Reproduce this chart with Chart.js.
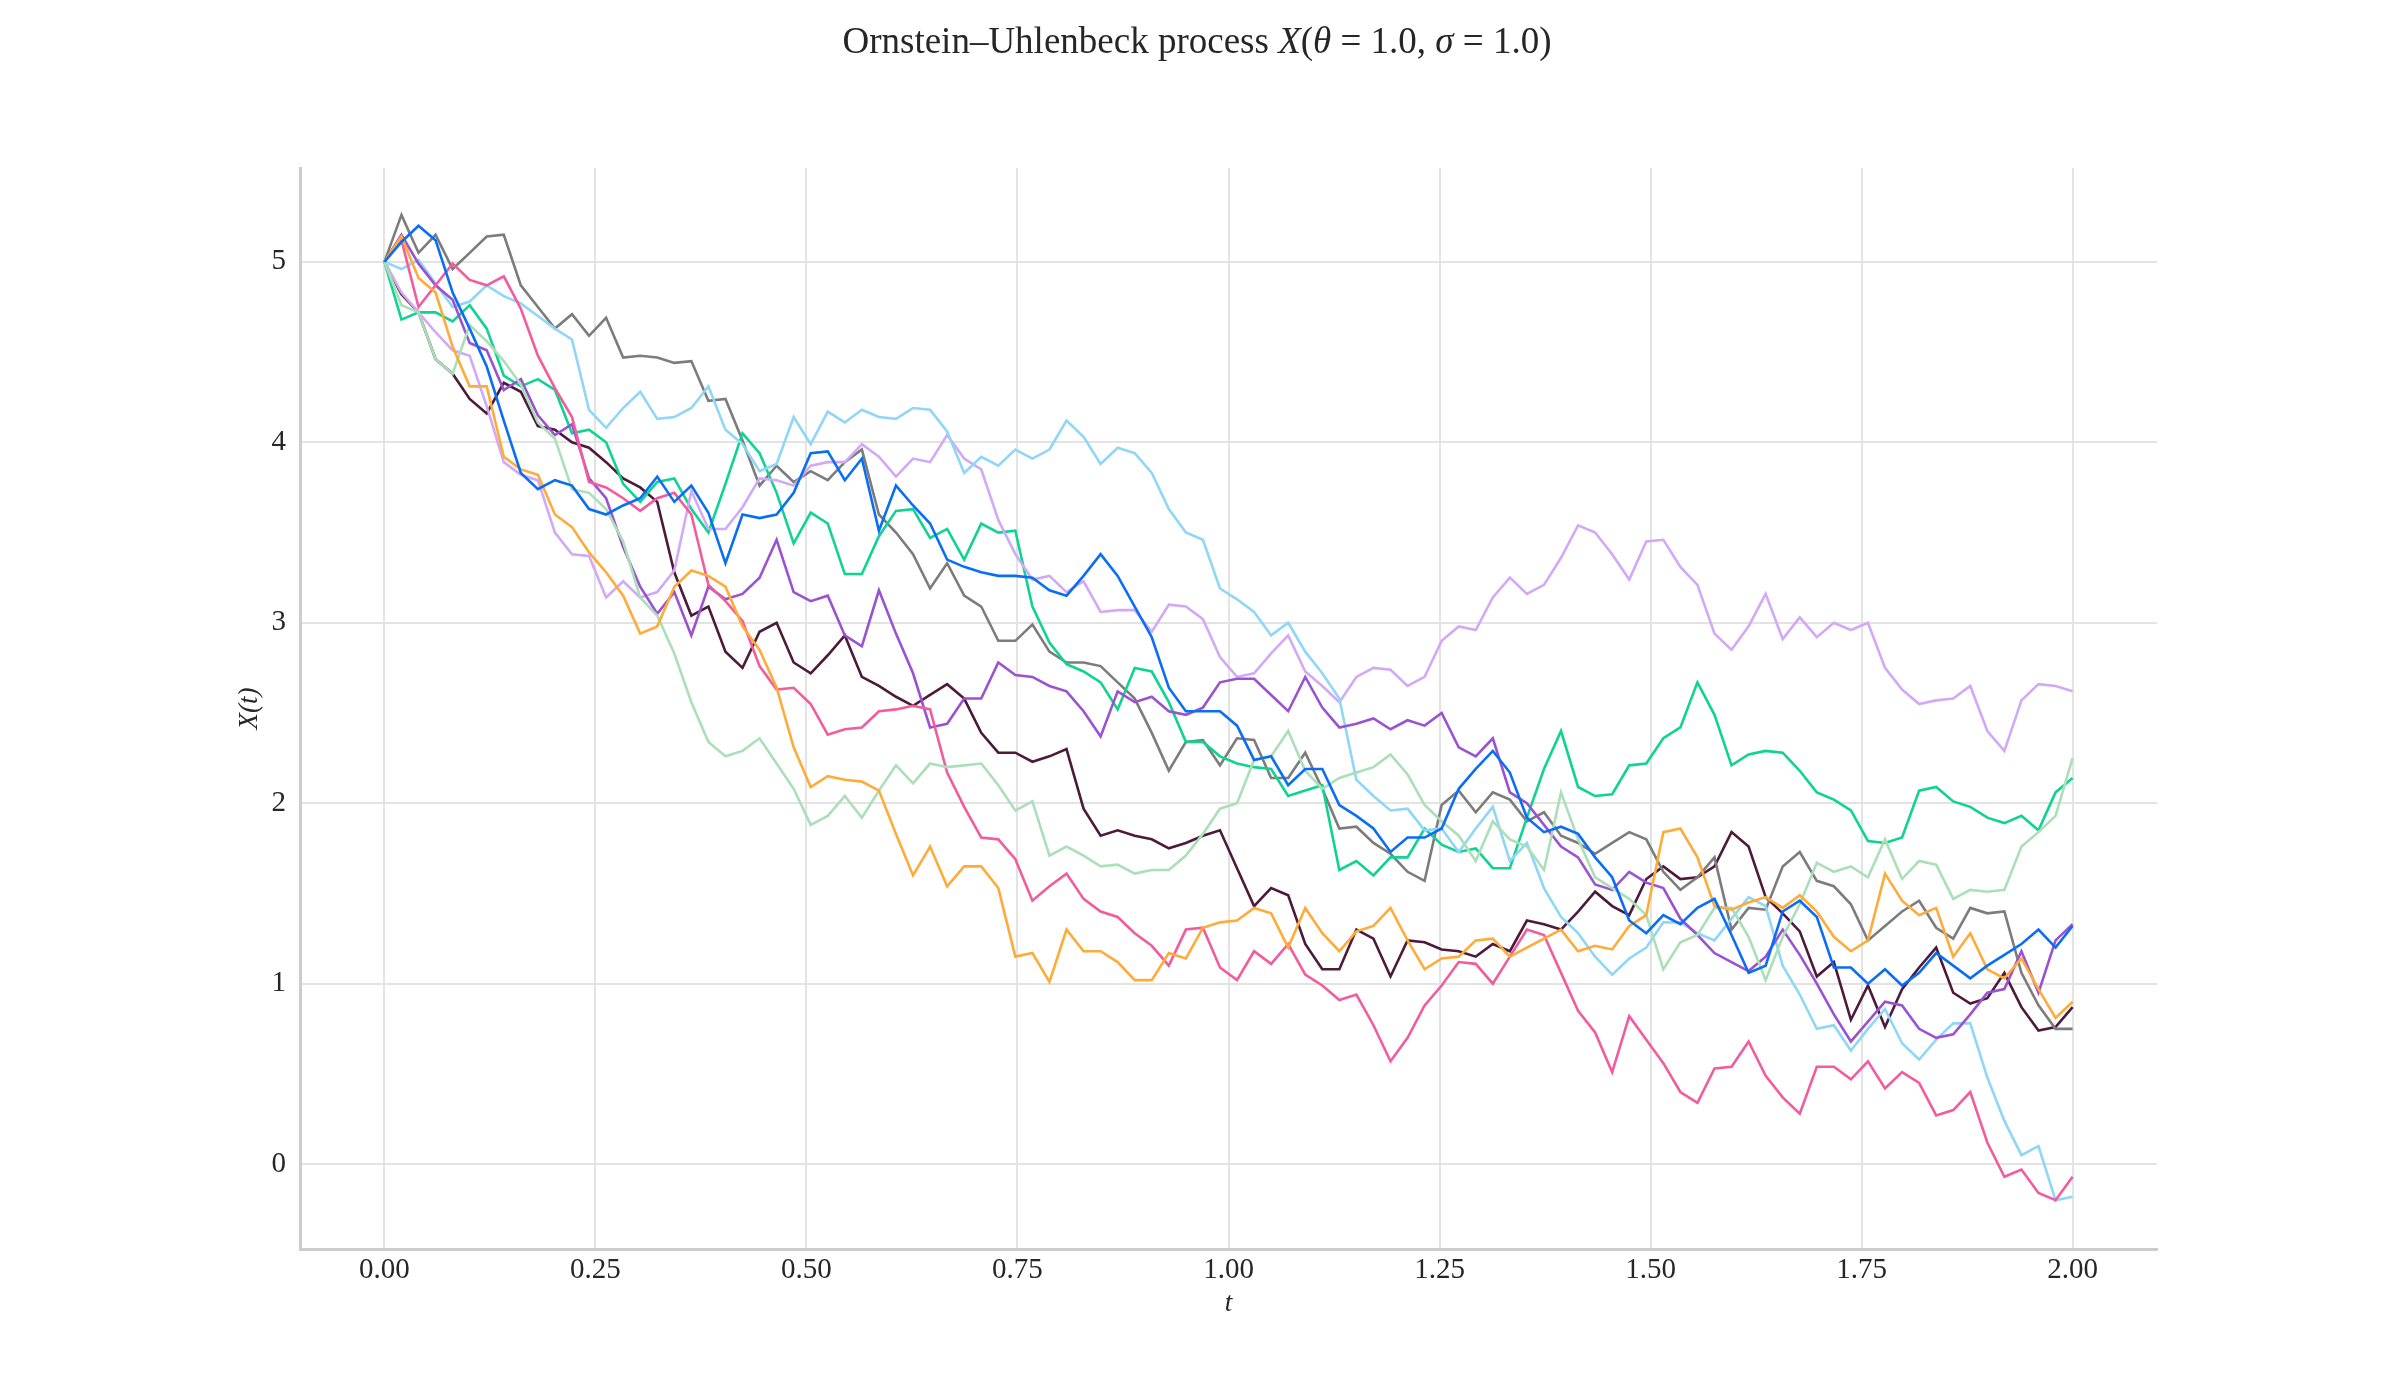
<!DOCTYPE html>
<html>
<head>
<meta charset="utf-8">
<script src="https://cdn.jsdelivr.net/npm/chart.js@4"></script>
<style>
    html, body { margin: 0; padding: 0; background: #ffffff; }
    canvas { display: block; }
</style>
</head>
<body>
<canvas id="ou_chart" width="2400" height="1400"></canvas>
<script>
'use strict';

// sample times: 100 steps from 0 to 2
const N_STEPS = 100;
const T_END = 2;

const X_TICKS = [0, 0.25, 0.5, 0.75, 1, 1.25, 1.5, 1.75, 2];
const Y_TICKS = [0, 1, 2, 3, 4, 5];

const path_blue = [5.00, 5.11, 5.20, 5.12, 4.83, 4.63, 4.42, 4.12, 3.83, 3.74, 3.79, 3.76, 3.63, 3.60, 3.65, 3.69, 3.81, 3.67, 3.76, 3.61,
    3.33, 3.60, 3.58, 3.60, 3.72, 3.94, 3.95, 3.79, 3.91, 3.51, 3.76, 3.65, 3.55, 3.35, 3.31, 3.28, 3.26, 3.26, 3.25, 3.18,
    3.15, 3.26, 3.38, 3.26, 3.09, 2.92, 2.64, 2.51, 2.51, 2.51, 2.43, 2.24, 2.26, 2.10, 2.19, 2.19, 1.99, 1.93, 1.86, 1.73,
    1.81, 1.81, 1.86, 2.08, 2.19, 2.29, 2.17, 1.92, 1.84, 1.87, 1.83, 1.70, 1.59, 1.35, 1.28, 1.38, 1.33, 1.42, 1.47, 1.27,
    1.06, 1.10, 1.40, 1.46, 1.37, 1.09, 1.09, 1.00, 1.08, 0.99, 1.06, 1.17, 1.10, 1.03, 1.10, 1.16, 1.22, 1.30, 1.20, 1.32];
const path_orange = [5.00, 5.14, 4.91, 4.83, 4.53, 4.31, 4.31, 3.92, 3.85, 3.82, 3.60, 3.53, 3.39, 3.28, 3.15, 2.94, 2.98, 3.20, 3.29, 3.26,
    3.20, 2.98, 2.85, 2.64, 2.31, 2.09, 2.15, 2.13, 2.12, 2.07, 1.83, 1.60, 1.76, 1.54, 1.65, 1.65, 1.53, 1.15, 1.17, 1.01,
    1.30, 1.18, 1.18, 1.12, 1.02, 1.02, 1.17, 1.14, 1.31, 1.34, 1.35, 1.42, 1.39, 1.20, 1.42, 1.28, 1.18, 1.29, 1.32, 1.42,
    1.24, 1.08, 1.14, 1.15, 1.24, 1.25, 1.15, 1.20, 1.25, 1.30, 1.18, 1.21, 1.19, 1.32, 1.38, 1.84, 1.86, 1.70, 1.43, 1.41,
    1.45, 1.48, 1.42, 1.49, 1.40, 1.26, 1.18, 1.24, 1.61, 1.46, 1.38, 1.42, 1.15, 1.28, 1.08, 1.03, 1.14, 0.97, 0.81, 0.90];
const path_mint = [5.00, 4.76, 4.72, 4.46, 4.38, 4.65, 4.56, 4.45, 4.32, 4.11, 4.02, 3.74, 3.72, 3.63, 3.45, 3.14, 3.04, 2.83, 2.56, 2.34,
    2.26, 2.29, 2.36, 2.22, 2.08, 1.88, 1.93, 2.04, 1.92, 2.07, 2.21, 2.11, 2.22, 2.20, 2.21, 2.22, 2.10, 1.96, 2.01, 1.71,
    1.76, 1.71, 1.65, 1.66, 1.61, 1.63, 1.63, 1.71, 1.83, 1.97, 2.00, 2.24, 2.26, 2.40, 2.18, 2.08, 2.14, 2.17, 2.20, 2.27,
    2.16, 1.99, 1.90, 1.82, 1.68, 1.90, 1.80, 1.76, 1.63, 2.06, 1.80, 1.59, 1.53, 1.47, 1.38, 1.08, 1.23, 1.27, 1.42, 1.42,
    1.26, 1.02, 1.26, 1.44, 1.67, 1.62, 1.65, 1.59, 1.80, 1.58, 1.68, 1.66, 1.47, 1.52, 1.51, 1.52, 1.76, 1.84, 1.93, 2.25];
const path_pink = [5.00, 5.12, 4.75, 4.87, 4.99, 4.90, 4.87, 4.92, 4.74, 4.48, 4.30, 4.14, 3.78, 3.75, 3.69, 3.62, 3.69, 3.72, 3.60, 3.21,
    3.12, 3.01, 2.76, 2.63, 2.64, 2.55, 2.38, 2.41, 2.42, 2.51, 2.52, 2.54, 2.52, 2.17, 1.98, 1.81, 1.80, 1.69, 1.46, 1.54,
    1.61, 1.47, 1.40, 1.37, 1.28, 1.21, 1.10, 1.30, 1.31, 1.09, 1.02, 1.18, 1.11, 1.22, 1.05, 0.99, 0.91, 0.94, 0.77, 0.57,
    0.70, 0.88, 0.99, 1.12, 1.11, 1.00, 1.15, 1.30, 1.27, 1.06, 0.85, 0.73, 0.51, 0.82, 0.69, 0.56, 0.40, 0.34, 0.53, 0.54,
    0.68, 0.49, 0.37, 0.28, 0.54, 0.54, 0.47, 0.57, 0.42, 0.51, 0.45, 0.27, 0.30, 0.40, 0.12, -0.07, -0.03, -0.16, -0.20, -0.07];
const path_purple = [5.00, 5.15, 4.99, 4.87, 4.79, 4.55, 4.51, 4.29, 4.35, 4.15, 4.04, 4.10, 3.80, 3.69, 3.42, 3.20, 3.05, 3.17, 2.93, 3.20,
    3.13, 3.16, 3.25, 3.46, 3.17, 3.12, 3.15, 2.93, 2.87, 3.18, 2.94, 2.72, 2.42, 2.44, 2.58, 2.58, 2.78, 2.71, 2.70, 2.65,
    2.62, 2.51, 2.37, 2.62, 2.56, 2.59, 2.51, 2.49, 2.53, 2.67, 2.69, 2.69, 2.60, 2.51, 2.70, 2.53, 2.42, 2.44, 2.47, 2.41,
    2.46, 2.43, 2.50, 2.31, 2.26, 2.36, 2.06, 2.00, 1.88, 1.76, 1.70, 1.55, 1.52, 1.62, 1.56, 1.53, 1.36, 1.27, 1.17, 1.12,
    1.07, 1.15, 1.30, 1.16, 1.00, 0.83, 0.68, 0.79, 0.90, 0.88, 0.75, 0.70, 0.72, 0.83, 0.95, 0.97, 1.18, 0.95, 1.24, 1.33];
const path_sky = [5.00, 4.96, 5.01, 4.88, 4.75, 4.78, 4.87, 4.81, 4.77, 4.70, 4.63, 4.57, 4.18, 4.08, 4.19, 4.28, 4.13, 4.14, 4.19, 4.31,
    4.07, 3.99, 3.84, 3.88, 4.14, 3.99, 4.17, 4.11, 4.18, 4.14, 4.13, 4.19, 4.18, 4.06, 3.83, 3.92, 3.87, 3.96, 3.91, 3.96,
    4.12, 4.03, 3.88, 3.97, 3.94, 3.83, 3.63, 3.50, 3.46, 3.19, 3.13, 3.06, 2.93, 3.00, 2.84, 2.72, 2.58, 2.13, 2.04, 1.96,
    1.97, 1.85, 1.86, 1.73, 1.86, 1.98, 1.68, 1.78, 1.53, 1.37, 1.28, 1.15, 1.05, 1.14, 1.20, 1.34, 1.34, 1.28, 1.24, 1.36,
    1.48, 1.43, 1.10, 0.94, 0.75, 0.77, 0.63, 0.75, 0.86, 0.67, 0.58, 0.69, 0.78, 0.78, 0.48, 0.24, 0.05, 0.10, -0.20, -0.18];
const path_lavender = [5.00, 4.83, 4.72, 4.61, 4.51, 4.48, 4.20, 3.89, 3.82, 3.79, 3.50, 3.38, 3.37, 3.14, 3.23, 3.14, 3.17, 3.29, 3.73, 3.52,
    3.52, 3.64, 3.80, 3.79, 3.76, 3.87, 3.89, 3.89, 3.99, 3.92, 3.81, 3.91, 3.89, 4.04, 3.91, 3.85, 3.57, 3.38, 3.24, 3.26,
    3.17, 3.23, 3.06, 3.07, 3.07, 2.95, 3.10, 3.09, 3.02, 2.81, 2.70, 2.72, 2.83, 2.93, 2.73, 2.65, 2.56, 2.70, 2.75, 2.74,
    2.65, 2.70, 2.90, 2.98, 2.96, 3.14, 3.25, 3.16, 3.21, 3.36, 3.54, 3.50, 3.38, 3.24, 3.45, 3.46, 3.31, 3.21, 2.94, 2.85,
    2.98, 3.16, 2.91, 3.03, 2.92, 3.00, 2.96, 3.00, 2.75, 2.63, 2.55, 2.57, 2.58, 2.65, 2.40, 2.29, 2.57, 2.66, 2.65, 2.62];
const path_teal = [5.00, 4.68, 4.72, 4.72, 4.67, 4.76, 4.63, 4.37, 4.31, 4.35, 4.29, 4.05, 4.07, 4.00, 3.77, 3.67, 3.78, 3.80, 3.63, 3.50,
    3.77, 4.05, 3.94, 3.72, 3.44, 3.61, 3.55, 3.27, 3.27, 3.48, 3.62, 3.63, 3.47, 3.52, 3.35, 3.55, 3.50, 3.51, 3.09, 2.89,
    2.77, 2.73, 2.67, 2.52, 2.75, 2.73, 2.56, 2.34, 2.34, 2.26, 2.22, 2.20, 2.19, 2.04, 2.07, 2.10, 1.63, 1.68, 1.60, 1.70,
    1.70, 1.86, 1.77, 1.73, 1.75, 1.64, 1.64, 1.92, 2.19, 2.40, 2.09, 2.04, 2.05, 2.21, 2.22, 2.36, 2.42, 2.67, 2.49, 2.21,
    2.27, 2.29, 2.28, 2.18, 2.06, 2.02, 1.96, 1.79, 1.78, 1.81, 2.07, 2.09, 2.01, 1.98, 1.92, 1.89, 1.93, 1.85, 2.06, 2.14];
const path_gray = [5.00, 5.26, 5.05, 5.15, 4.96, 5.05, 5.14, 5.15, 4.87, 4.75, 4.63, 4.71, 4.59, 4.69, 4.47, 4.48, 4.47, 4.44, 4.45, 4.23,
    4.24, 4.01, 3.76, 3.87, 3.78, 3.84, 3.79, 3.89, 3.96, 3.60, 3.50, 3.38, 3.19, 3.33, 3.15, 3.09, 2.90, 2.90, 2.99, 2.84,
    2.78, 2.78, 2.76, 2.67, 2.58, 2.39, 2.18, 2.34, 2.35, 2.21, 2.36, 2.35, 2.14, 2.14, 2.28, 2.08, 1.86, 1.87, 1.78, 1.72,
    1.62, 1.57, 1.99, 2.07, 1.95, 2.06, 2.02, 1.90, 1.95, 1.82, 1.78, 1.72, 1.78, 1.84, 1.80, 1.62, 1.52, 1.59, 1.70, 1.30,
    1.42, 1.41, 1.65, 1.73, 1.57, 1.54, 1.44, 1.24, 1.32, 1.40, 1.46, 1.31, 1.25, 1.42, 1.39, 1.40, 1.06, 0.88, 0.75, 0.75];
const path_maroon = [5.00, 4.82, 4.72, 4.46, 4.38, 4.24, 4.16, 4.33, 4.28, 4.09, 4.07, 4.00, 3.97, 3.89, 3.80, 3.75, 3.67, 3.28, 3.04, 3.09,
    2.84, 2.75, 2.95, 3.00, 2.78, 2.72, 2.82, 2.93, 2.70, 2.65, 2.59, 2.54, 2.60, 2.66, 2.58, 2.39, 2.28, 2.28, 2.23, 2.26,
    2.30, 1.97, 1.82, 1.85, 1.82, 1.80, 1.75, 1.78, 1.82, 1.85, 1.64, 1.43, 1.53, 1.49, 1.22, 1.08, 1.08, 1.30, 1.25, 1.04,
    1.24, 1.23, 1.19, 1.18, 1.15, 1.22, 1.18, 1.35, 1.33, 1.30, 1.40, 1.51, 1.43, 1.38, 1.58, 1.65, 1.58, 1.59, 1.65, 1.84,
    1.76, 1.48, 1.39, 1.29, 1.04, 1.12, 0.80, 0.99, 0.76, 0.97, 1.09, 1.20, 0.95, 0.89, 0.92, 1.06, 0.87, 0.74, 0.76, 0.87];

const PATHS = [
    [path_blue, '#0a6ef5'],
    [path_orange, '#ffab3a'],
    [path_mint, '#abdfb8'],
    [path_pink, '#f25c9d'],
    [path_purple, '#9b52d1'],
    [path_sky, '#8fd6f7'],
    [path_lavender, '#d1a9f6'],
    [path_teal, '#0fd392'],
    [path_gray, '#7c7c7c'],
    [path_maroon, '#4d1a3b'],
];

const FONT = "'Liberation Serif', 'DejaVu Serif', serif";
const TEXT_COLOR = '#262626';

function sample_time(i) {
    return i * T_END / (N_STEPS - 1);
}

function make_dataset(values, color) {
    return {
        data: values.map((v, i) => ({x: sample_time(i), y: v})),
        borderColor: color,
        backgroundColor: color,
        borderWidth: 2.6,
        pointRadius: 0,
        tension: 0,
        fill: false,
    };
}

// title with the math parts in italic, drawn centred above the plot
const title_plugin = {
    id: 'ou_title',
    afterDraw(chart) {
        const ctx = chart.ctx;
        const size = 37;
        const parts = [
            ['Ornstein\u2013Uhlenbeck process ', false],
            ['X', true], ['(', false], ['\u03b8', true], [' = 1.0, ', false],
            ['\u03c3', true], [' = 1.0)', false],
        ];
        ctx.save();
        ctx.fillStyle = TEXT_COLOR;
        ctx.textBaseline = 'middle';
        ctx.textAlign = 'left';
        let total = 0;
        parts.forEach(([txt, it]) => {
            ctx.font = (it ? 'italic ' : '') + size + 'px ' + FONT;
            total += ctx.measureText(txt).width;
        });
        let x = 1197 - total / 2;
        parts.forEach(([txt, it]) => {
            ctx.font = (it ? 'italic ' : '') + size + 'px ' + FONT;
            ctx.fillText(txt, x, 43);
            x += ctx.measureText(txt).width;
        });
        ctx.restore();
    }
};

function draw_chart() {
    const ctx = document.getElementById('ou_chart').getContext('2d');
    new Chart(ctx, {
        type: 'line',
        data: {
            datasets: PATHS.map(([values, color]) => make_dataset(values, color)),
        },
        options: {
            responsive: false,
            animation: false,
            devicePixelRatio: 1,
            layout: {padding: {top: 168, right: 243, left: 0, bottom: 0}},
            plugins: {
                legend: {display: false},
                tooltip: {enabled: false},
            },
            scales: {
                x: {
                    type: 'linear',
                    min: -0.1,
                    max: 2.1,
                    afterBuildTicks: (scale) => {
                        scale.ticks = X_TICKS.map((v) => ({value: v}));
                    },
                    afterFit: (scale) => {
                        scale.height = 151;
                    },
                    grid: {color: '#e3e3e3', lineWidth: 2, drawTicks: false},
                    border: {color: '#cccccc', width: 3},
                    ticks: {
                        autoSkip: false,
                        maxRotation: 0,
                        padding: 4,
                        color: TEXT_COLOR,
                        font: {family: FONT, size: 29},
                        callback: (v) => Number(v).toFixed(2),
                    },
                    title: {
                        display: true,
                        text: 't',
                        color: TEXT_COLOR,
                        font: {family: FONT, size: 27, style: 'italic'},
                        padding: {top: 0, bottom: 80},
                    },
                },
                y: {
                    type: 'linear',
                    min: -0.47,
                    max: 5.52,
                    afterBuildTicks: (scale) => {
                        scale.ticks = Y_TICKS.map((v) => ({value: v}));
                    },
                    afterFit: (scale) => {
                        scale.width = 300;
                    },
                    grid: {color: '#e3e3e3', lineWidth: 2, drawTicks: false},
                    border: {color: '#cccccc', width: 3},
                    ticks: {
                        padding: 14,
                        color: TEXT_COLOR,
                        font: {family: FONT, size: 29},
                        callback: (v) => String(v),
                    },
                    title: {
                        display: true,
                        text: 'X(t)',
                        color: TEXT_COLOR,
                        font: {family: FONT, size: 27, style: 'italic'},
                        padding: {top: 234, bottom: 0},
                    },
                },
            },
        },
        plugins: [title_plugin],
    });
}

document.addEventListener('DOMContentLoaded', function(_event) {
    draw_chart();
});
</script>
</body>
</html>
